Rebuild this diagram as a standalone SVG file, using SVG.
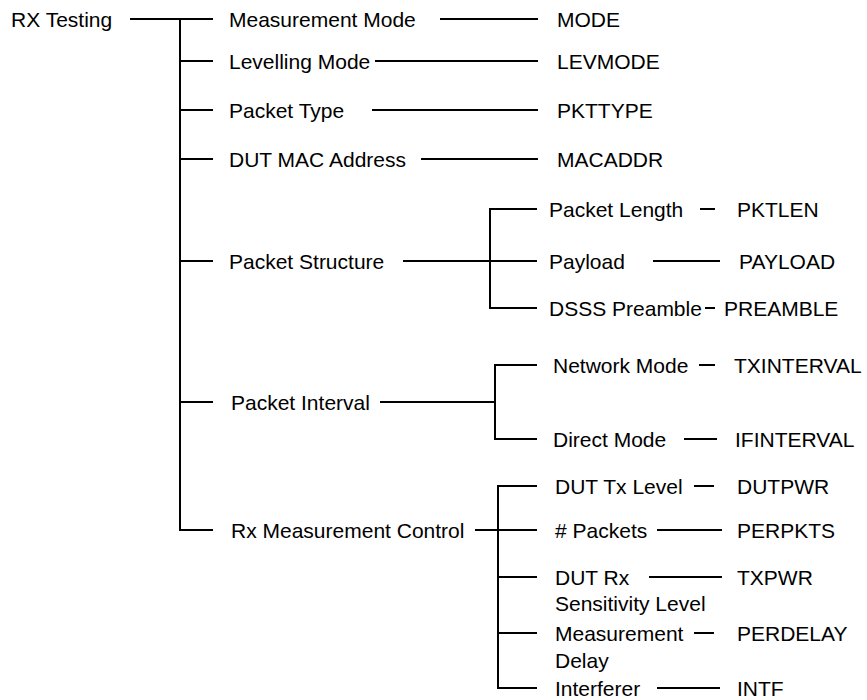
<svg xmlns="http://www.w3.org/2000/svg" width="867" height="700" viewBox="0 0 867 700">
<style>
text{font-family:"Liberation Sans",Arial,sans-serif;font-size:21px;fill:#000}
.c line{stroke:#000;stroke-width:2;stroke-linecap:butt}
</style>
<rect width="867" height="700" fill="#fff"/>
<g class="c" id="connectors">
<line x1="130" y1="19" x2="213" y2="19"/>
<line x1="180" y1="18" x2="180" y2="531"/>
<line x1="179" y1="61" x2="213" y2="61"/>
<line x1="179" y1="110" x2="213" y2="110"/>
<line x1="179" y1="159" x2="213" y2="159"/>
<line x1="179" y1="261" x2="213" y2="261"/>
<line x1="179" y1="402" x2="213" y2="402"/>
<line x1="179" y1="530" x2="213" y2="530"/>
<line x1="440" y1="19" x2="538" y2="19"/>
<line x1="375" y1="61" x2="538" y2="61"/>
<line x1="372" y1="110" x2="538" y2="110"/>
<line x1="421" y1="159" x2="538" y2="159"/>
<line x1="403" y1="261" x2="537" y2="261"/>
<line x1="490" y1="208" x2="490" y2="309"/>
<line x1="489" y1="209" x2="537" y2="209"/>
<line x1="489" y1="308" x2="537" y2="308"/>
<line x1="700" y1="209" x2="715" y2="209"/>
<line x1="653" y1="261" x2="720" y2="261"/>
<line x1="705" y1="308" x2="715" y2="308"/>
<line x1="380" y1="402" x2="495" y2="402"/>
<line x1="495" y1="364" x2="495" y2="440"/>
<line x1="494" y1="365" x2="537" y2="365"/>
<line x1="494" y1="439" x2="537" y2="439"/>
<line x1="699" y1="365" x2="715" y2="365"/>
<line x1="684" y1="439" x2="717" y2="439"/>
<line x1="475" y1="530" x2="537" y2="530"/>
<line x1="498" y1="485" x2="498" y2="689"/>
<line x1="497" y1="486" x2="537" y2="486"/>
<line x1="497" y1="577" x2="537" y2="577"/>
<line x1="497" y1="633" x2="537" y2="633"/>
<line x1="497" y1="688" x2="537" y2="688"/>
<line x1="694" y1="486" x2="714" y2="486"/>
<line x1="657" y1="530" x2="722" y2="530"/>
<line x1="649" y1="577" x2="722" y2="577"/>
<line x1="694" y1="633" x2="714" y2="633"/>
<line x1="657" y1="688" x2="720" y2="688"/>
</g>
<g id="n-rx-testing"><text x="11" y="26.5">RX Testing</text></g>
<g id="n-measurement-mode"><text x="229" y="26.5">Measurement Mode</text></g>
<g id="n-mode"><text x="557" y="26.5">MODE</text></g>
<g id="n-levelling-mode"><text x="229" y="68.5">Levelling Mode</text></g>
<g id="n-levmode"><text x="557" y="68.5">LEVMODE</text></g>
<g id="n-packet-type"><text x="229" y="117.5">Packet Type</text></g>
<g id="n-pkttype"><text x="557" y="117.5">PKTTYPE</text></g>
<g id="n-dut-mac"><text x="229" y="166.5">DUT MAC Address</text></g>
<g id="n-macaddr"><text x="557" y="166.5">MACADDR</text></g>
<g id="n-packet-structure"><text x="229" y="268.5">Packet Structure</text></g>
<g id="n-packet-length"><text x="549" y="216.5">Packet Length</text></g>
<g id="n-pktlen"><text x="737" y="216.5">PKTLEN</text></g>
<g id="n-payload"><text x="549" y="268.5">Payload</text></g>
<g id="n-payload-v"><text x="739" y="268.5">PAYLOAD</text></g>
<g id="n-dsss"><text x="549" y="315.5">DSSS Preamble</text></g>
<g id="n-preamble"><text x="724" y="315.5">PREAMBLE</text></g>
<g id="n-packet-interval"><text x="231" y="409.5">Packet Interval</text></g>
<g id="n-network-mode"><text x="553" y="372.5">Network Mode</text></g>
<g id="n-txinterval"><text x="734" y="372.5">TXINTERVAL</text></g>
<g id="n-direct-mode"><text x="553" y="446.5">Direct Mode</text></g>
<g id="n-ifinterval"><text x="735" y="446.5">IFINTERVAL</text></g>
<g id="n-rx-meas-control"><text x="231" y="537.5">Rx Measurement Control</text></g>
<g id="n-dut-tx"><text x="555" y="493.5">DUT Tx Level</text></g>
<g id="n-dutpwr"><text x="737" y="493.5">DUTPWR</text></g>
<g id="n-packets"><text x="555" y="537.5"># Packets</text></g>
<g id="n-perpkts"><text x="737" y="537.5">PERPKTS</text></g>
<g id="n-dut-rx"><text x="555" y="584.5">DUT Rx</text><text x="555" y="610.5">Sensitivity Level</text></g>
<g id="n-txpwr"><text x="737" y="584.5">TXPWR</text></g>
<g id="n-meas-delay"><text x="555" y="640.5">Measurement</text><text x="555" y="667.5">Delay</text></g>
<g id="n-perdelay"><text x="737" y="640.5">PERDELAY</text></g>
<g id="n-interferer"><text x="555" y="695.5">Interferer</text></g>
<g id="n-intf"><text x="737" y="695.5">INTF</text></g>
</svg>
